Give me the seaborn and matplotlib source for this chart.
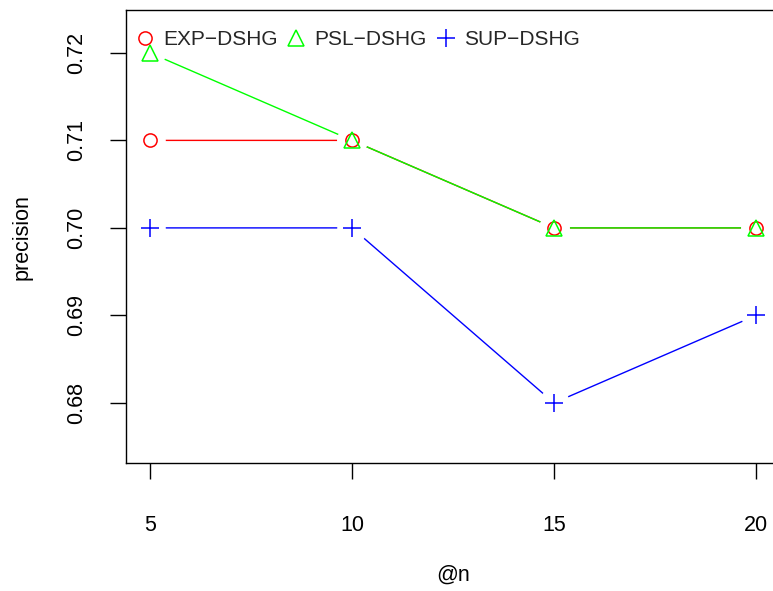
import matplotlib
matplotlib.use("Agg")
import matplotlib.pyplot as plt
from matplotlib.lines import Line2D
import seaborn as sns
import pandas as pd

# values
n_values = [5, 10, 15, 20]
exp_dshg = [0.71, 0.71, 0.70, 0.70]
psl_dshg = [0.72, 0.71, 0.70, 0.70]
sup_dshg = [0.70, 0.70, 0.68, 0.69]
y_ticks = [0.68, 0.69, 0.70, 0.71, 0.72]
y_tick_labels = ["0.68", "0.69", "0.70", "0.71", "0.72"]
series_labels = ["EXP\u2212DSHG", "PSL\u2212DSHG", "SUP\u2212DSHG"]

df = pd.DataFrame({"n": n_values, "EXP-DSHG": exp_dshg,
                   "PSL-DSHG": psl_dshg, "SUP-DSHG": sup_dshg})

styles = {
    "EXP-DSHG": dict(color="#FF0000", marker="o", ms=9.5),
    "PSL-DSHG": dict(color="#00FF00", marker="^", ms=11),
    "SUP-DSHG": dict(color="#0000FF", marker="+", ms=13),
}

sns.set_theme(style="white")
plt.rcParams["font.family"] = ["Liberation Sans", "DejaVu Sans"]

fig = plt.figure(figsize=(7.73, 5.91), dpi=100)
# right edge of the box is cut off in the reference
ax = fig.add_axes([125.8 / 773, 1 - 463.3 / 591, 654.4 / 773, 453.3 / 591])

# lines
for name, st in styles.items():
    sns.lineplot(data=df, x="n", y=name, color=st["color"], lw=1,
                 ax=ax, zorder=1, legend=False)
# white gaps around the points (R type="b")
for name in styles:
    ax.plot(df["n"], df[name], linestyle="none", marker="o", ms=21,
            color="white", zorder=2)
# open markers
handles = []
for (name, st), lab in zip(styles.items(), series_labels):
    ax.plot(df["n"], df[name], linestyle="none", marker=st["marker"],
            ms=st["ms"], markerfacecolor="none", markeredgecolor=st["color"],
            markeredgewidth=1.1, zorder=3)
    handles.append(Line2D([], [], linestyle="none", marker=st["marker"],
                          ms=st["ms"], markerfacecolor="none",
                          markeredgecolor=st["color"], markeredgewidth=1.1,
                          label=lab))

ax.set_xlim(4.4, 20.6)
ax.set_ylim(0.6731, 0.7249)
ax.set_xticks(n_values)
ax.set_xticklabels([str(v) for v in n_values])
ax.set_yticks(y_ticks)
ax.set_yticklabels(y_tick_labels, rotation=90, va="center")

for sp in ax.spines.values():
    sp.set_color("black")
    sp.set_linewidth(1)
ax.tick_params(axis="both", direction="out", length=11.5, width=1,
               color="black", labelsize=15.5, labelcolor="black",
               bottom=True, left=True)
ax.tick_params(axis="x", pad=26)
ax.tick_params(axis="y", pad=16)

ax.set_xlabel("@n", fontsize=15.5, color="black")
ax.set_ylabel("precision", fontsize=15.5, color="black")
ax.xaxis.label.set_va("center")
ax.yaxis.label.set_va("center")
ax.xaxis.set_label_coords(0.5, -(575 - 463.3) / 453.3)
ax.yaxis.set_label_coords((22 - 125.8) / 654.4, 0.5)

leg = ax.legend(handles=handles, loc="upper left", ncol=3, frameon=False,
                fontsize=15, handlelength=1.0, handletextpad=0.37,
                columnspacing=0.4, borderpad=0, borderaxespad=0,
                bbox_to_anchor=(134.6 / 773, 1 - 30 / 591),
                bbox_transform=fig.transFigure)
leg.set_zorder(10)

fig.savefig("out.png", dpi=100)
